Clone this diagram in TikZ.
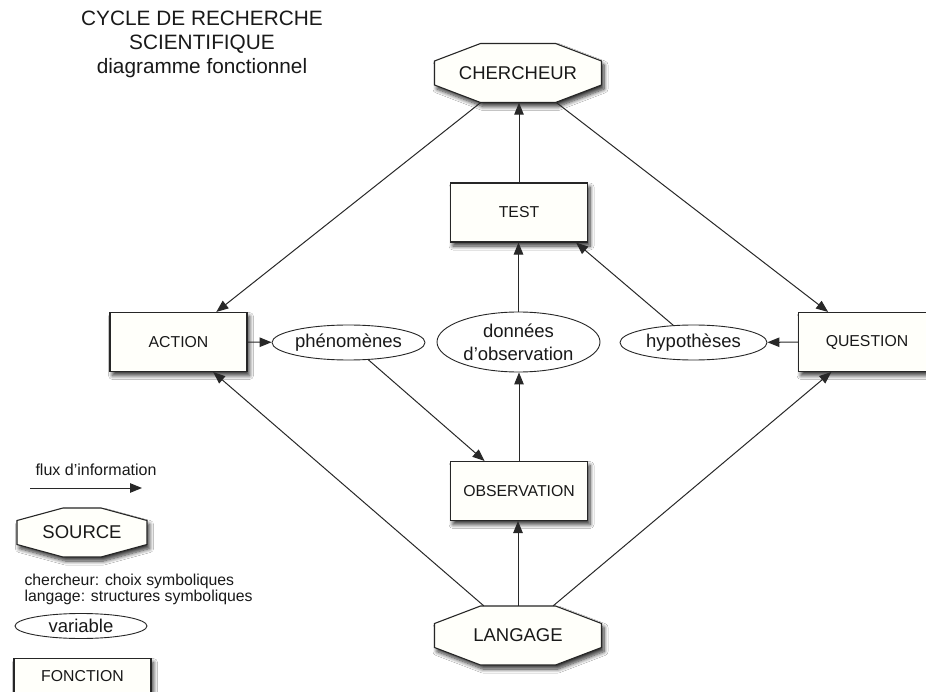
\documentclass[tikz,border=0pt]{standalone}
\usepackage{fontspec}
\setmainfont{Liberation Sans}
\usetikzlibrary{shapes.geometric,arrows.meta,shadows.blur}

\definecolor{boxfill}{RGB}{255,255,250}
\definecolor{linegray}{RGB}{40,40,40}

\tikzset{
  every node/.style={text=black!90},
  softshadow/.style={blur shadow={shadow xshift=2.5pt, shadow yshift=-4pt,
      shadow blur radius=4pt, shadow blur steps=8, shadow opacity=80}},
  fnbox/.style={draw=black!85, line width=1.1pt, fill=boxfill, softshadow,
      minimum width=137pt, minimum height=59pt, inner sep=0pt,
      font=\fontsize{15.8}{18}\selectfont},
  varbox/.style={ellipse, draw=black!85, line width=0.9pt, fill=white,
      inner sep=0pt, font=\fontsize{18.5}{23}\selectfont, align=center},
  octofill/.style={draw=black!85, line width=1.1pt, fill=boxfill, softshadow},
  octotext/.style={inner sep=0pt, font=\fontsize{18.5}{22}\selectfont},
  flow/.style={draw=linegray, line width=1pt, -{Triangle[length=12pt,width=9.5pt]}},
}

% octagonal source node: name, x, y, half width, half height, text
\newcommand\octonode[6]{%
  \path[octofill]
    ({#2-#4},{#3-12}) -- ({#2-#4+46},{#3-#5}) -- ({#2+#4-46},{#3-#5})
    -- ({#2+#4},{#3-12}) -- ({#2+#4},{#3+12}) -- ({#2+#4-46},{#3+#5})
    -- ({#2-#4+46},{#3+#5}) -- ({#2-#4},{#3+12}) -- cycle;
  \node[octotext, minimum width={2*#4}, minimum height={2*#5}] (#1) at (#2,#3) {#6};
}

\begin{document}
\begin{tikzpicture}[x=1pt, y=-1pt]
\useasboundingbox[fill=white] (0,0) rectangle (926,692);

% title
\node[align=center, font=\fontsize{20.8}{24}\selectfont] (title) at (202,44)
  {CYCLE DE RECHERCHE\\SCIENTIFIQUE\\diagramme fonctionnel};

% sources
\octonode{ch}{518}{73}{83.5}{29.5}{CHERCHEUR}
\octonode{lang}{518}{635.5}{83.5}{29.5}{LANGAGE}

% functions
\node[fnbox] (test) at (519,212.5) {TEST};
\node[fnbox] (action) at (178.5,342) {ACTION};
\node[fnbox] (question) at (867,342) {QUESTION};
\node[fnbox] (obs) at (519,491) {OBSERVATION};

% variables
\node[varbox, minimum width=153pt, minimum height=35pt] (phen) at (348.5,342.5) {phénomènes};
\node[varbox, minimum width=163pt, minimum height=60pt] (data) at (518.5,342)
  {données\\d'observation};
\node[varbox, minimum width=147pt, minimum height=35pt] (hyp) at (693.5,342.5) {hypothèses};

% information flow
\draw[flow] (ch) -- (action);
\draw[flow] (ch) -- (question);
\draw[flow] (test.north) -- (test.north |- ch.south);
\draw[flow] (data.north) -- (data.north |- test.south);
\draw[flow] (hyp) -- ([xshift=-12pt]test.south east);
\draw[flow] (action) -- (phen);
\draw[flow] (question) -- (hyp);
\draw[flow] (phen) -- (obs);
\draw[flow] (obs.north) -- (obs.north |- data.south);
\draw[flow] (lang.north) -- (lang.north |- obs.south);
\draw[flow] (lang) -- (action);
\draw[flow] (lang) -- (question);

% legend
\node[font=\fontsize{16}{18}\selectfont] (fluxlbl) at (96,470) {flux d'information};
\coordinate (fluxa) at (30,488);
\coordinate (fluxb) at (142,488);
\draw[flow] (fluxa) -- (fluxb);
\octonode{src}{82}{532.5}{65}{24.5}{SOURCE}
\node[anchor=west, align=left, font=\fontsize{15.8}{15.5}\selectfont] (srcnote) at (21,589.5)
  {chercheur: choix symboliques\\langage: structures symboliques};
\node[varbox, minimum width=132pt, minimum height=25pt] (varlbl) at (81,626) {variable};
\node[fnbox, anchor=north, text depth=25pt] (fonclbl) at (82.5,658) {FONCTION};
\end{tikzpicture}
\end{document}
